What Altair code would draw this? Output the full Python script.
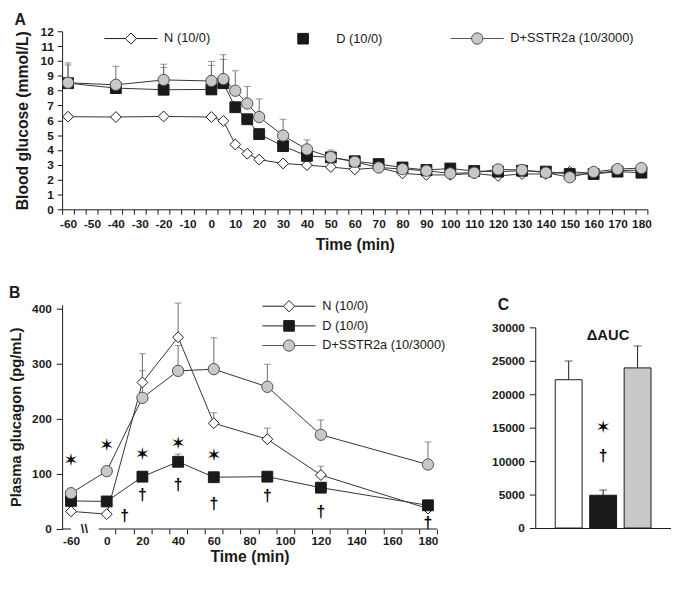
import altair as alt
import pandas as pd

GROUPS = ["N (10/0)", "D (10/0)", "D+SSTR2a (10/3000)"]
FILLS = ["#ffffff", "#1a1a1a", "#c8c8c8"]
STROKES = ["#1a1a1a", "#1a1a1a", "#505050"]
SHAPES = ["diamond", "square", "circle"]
SIZES = [121, 121, 132]
LINE_COLOR = "#333333"
ERR_COLOR = "#6a6a6a"
INK = "#1a1a1a"
FONT = "Liberation Sans"

# legend symbol paths (line + marker)
LINE_SEG = "M-4.5,0H-0.95M0.95,0H4.5"
DIAMOND = "M0,-0.95L0.95,0L0,0.95L-0.95,0Z"
SQUARE = "M-0.9,-0.9H0.9V0.9H-0.9Z"
CIRCLE = ("M0.96,0C0.96,0.53,0.53,0.96,0,0.96C-0.53,0.96,-0.96,0.53,-0.96,0"
          "C-0.96,-0.53,-0.53,-0.96,0,-0.96C0.53,-0.96,0.96,-0.53,0.96,0Z")
LEGEND_A_PATHS = [LINE_SEG + DIAMOND, SQUARE, LINE_SEG + CIRCLE]
LEGEND_B_PATHS = [LINE_SEG + DIAMOND, LINE_SEG + SQUARE, LINE_SEG + CIRCLE]

# ---------------- Panel A : blood glucose ----------------
A_TIME = [-60, -40, -20, 0, 5, 10, 15, 20, 30, 40, 50, 60, 70, 80, 90, 100,
          110, 120, 130, 140, 150, 160, 170, 180]
A_N = [6.24, 6.22, 6.26, 6.22, 5.96, 4.37, 3.75, 3.35, 3.09, 2.98, 2.85, 2.69,
       2.80, 2.42, 2.32, 2.32, 2.42, 2.25, 2.38, 2.38, 2.54, 2.42, 2.60, 2.65]
A_D = [8.50, 8.17, 8.06, 8.08, 8.50, 6.88, 6.07, 5.07, 4.26, 3.60, 3.50, 3.24,
       3.05, 2.82, 2.65, 2.75, 2.58, 2.54, 2.60, 2.54, 2.38, 2.38, 2.54, 2.47]
A_S = [8.53, 8.39, 8.72, 8.65, 8.78, 7.99, 7.13, 6.22, 4.97, 4.04, 3.52, 3.20,
       2.82, 2.71, 2.60, 2.42, 2.47, 2.69, 2.65, 2.47, 2.16, 2.52, 2.71, 2.78]
A_ERR_D_TIME = [-60, -20, 0, 5]
A_ERR_D_UP = [9.73, 9.56, 9.70, 10.10]
A_ERR_S_TIME = [-60, -40, -20, 0, 5, 10, 15, 20, 30, 40, 50]
A_ERR_S_UP = [9.87, 9.64, 9.78, 9.97, 10.42, 9.34, 8.28, 7.44, 6.07, 4.68, 4.00]
A_X_LABELS = [-60, -50, -40, -30, -20, -10, 0, 10, 20, 30, 40, 50, 60, 70, 80,
              90, 100, 110, 120, 130, 140, 150, 160, 170, 180]
A_X_TICKS = [-62.5 + 5 * i for i in range(50)]
A_Y_TICKS = [0, 1, 2, 3, 4, 5, 6, 7, 8, 9, 10, 11, 12]

# ---------------- Panel B : plasma glucagon ----------------
B_TIME = [-60, 0, 20, 40, 60, 90, 120, 180]
B_N = [32, 27, 266, 348, 192, 163, 98, 37]
B_D = [51, 50, 95, 122, 94, 95, 75, 43]
B_S = [65, 105, 238, 287, 290, 258, 171, 117]
B_ERR_N_TIME = [20, 40, 60, 90, 120]
B_ERR_N_UP = [318, 410, 211, 183, 114]
B_ERR_D_TIME = [40]
B_ERR_D_UP = [136]
B_ERR_S_TIME = [20, 40, 60, 90, 120, 180]
B_ERR_S_UP = [287, 333, 347, 299, 198, 158]
B_STAR_TIME = [-60, 0, 20, 40, 60]
B_STAR_Y = [124, 150, 135, 154, 132]
B_DAGGER_TIME = [10, 20, 40, 60, 90, 120, 180]
B_DAGGER_Y = [24, 62, 80, 45, 59, 31, 10]
B_X_LABELS = [-20, 0, 20, 40, 60, 80, 100, 120, 140, 160, 180]   # -20 shows "-60"
B_X_TICKS = [5, 15, 25, 35, 45, 55, 65, 75, 85, 95, 105, 115, 125, 135, 145,
             155, 165, 175, 185]
B_Y_TICKS = [0, 50, 100, 150, 200, 250, 300, 350, 400]
B_AXIS_FROM = [-25, -4.5]
B_AXIS_TO = [-20, 185]
B_BREAK_AT = [-12.5]

# ---------------- Panel C : delta AUC ----------------
C_VALUES = [22170, 4900, 23940]
C_ERR_UP = [24960, 5680, 27220]
C_STAR_Y = [14980]
C_DAGGER_Y = [10820]
C_Y_TICKS = [0, 5000, 10000, 15000, 20000, 25000, 30000]


def long_df(times, series):
    rows = []
    for g, vals in zip(GROUPS, series):
        for t, v in zip(times, vals):
            rows.append({"t": t, "y": v, "g": g})
    return pd.DataFrame(rows)


def err_df(times, vals, etimes, eups, g):
    look = dict(zip(times, vals))
    return pd.DataFrame({"t": etimes, "y": [look[t] for t in etimes],
                         "y2": eups, "g": [g] * len(etimes)})


def legend_layer(paths, legend):
    return alt.Chart(pd.DataFrame({"g": GROUPS})).transform_filter("false").mark_point(
        filled=True, opacity=1, size=144, strokeWidth=1
    ).encode(
        shape=alt.Shape("g:N", scale=alt.Scale(domain=GROUPS, range=paths), legend=legend),
        fill=alt.Fill("g:N", scale=alt.Scale(domain=GROUPS, range=FILLS), legend=legend),
        stroke=alt.Stroke("g:N", scale=alt.Scale(domain=GROUPS, range=STROKES), legend=legend),
    )


def series_layers(df, errs, X, Y, Y2, calc=None):
    def prep(c):
        return c.transform_calculate(x=calc) if calc else c
    layers = []
    layers.append(prep(alt.Chart(errs)).mark_rule(color=ERR_COLOR, strokeWidth=1).encode(
        x=X, y=Y, y2="y2:Q"))
    layers.append(prep(alt.Chart(errs)).mark_tick(orient="horizontal", size=7, thickness=1,
                                                  color=ERR_COLOR).encode(x=X, y=Y2))
    for g in GROUPS:
        layers.append(prep(alt.Chart(df)).transform_filter(alt.datum.g == g).mark_line(
            color=LINE_COLOR, strokeWidth=1).encode(x=X, y=Y))
    for g, shp, fl, st, sz in zip(GROUPS, SHAPES, FILLS, STROKES, SIZES):
        layers.append(prep(alt.Chart(df)).transform_filter(alt.datum.g == g).mark_point(
            shape=shp, filled=True, fill=fl, stroke=st, strokeWidth=1, size=sz,
            opacity=1).encode(x=X, y=Y))
    return layers


# ---------- Panel A ----------
dfA = long_df(A_TIME, [A_N, A_D, A_S])
errA = pd.concat([err_df(A_TIME, A_D, A_ERR_D_TIME, A_ERR_D_UP, GROUPS[1]),
                  err_df(A_TIME, A_S, A_ERR_S_TIME, A_ERR_S_UP, GROUPS[2])])

xA_scale = alt.Scale(domain=[-62.5, 182.5], nice=False, zero=False)
yA_scale = alt.Scale(domain=[0, 12], nice=False)
xA_axis = alt.Axis(values=A_X_LABELS + A_X_TICKS,
                   labelExpr="datum.value % 10 === 0 ? '' + datum.value : ''",
                   tickOpacity={"condition": {"test": "datum.value % 10 === 0", "value": 0}, "value": 1},
                   labelOverlap=False, labelFlush=False, labelPadding=5, titlePadding=7)
yA_axis = alt.Axis(values=A_Y_TICKS, labelPadding=4, titlePadding=10, labelOverlap=False)
XA = alt.X("t:Q", scale=xA_scale, axis=xA_axis, title="Time (min)")
YA = alt.Y("y:Q", scale=yA_scale, axis=yA_axis, title="Blood glucose (mmol/L)")
YA2 = alt.Y("y2:Q", scale=yA_scale, axis=yA_axis, title="Blood glucose (mmol/L)")

legendA = alt.Legend(title=None, orient="none", legendX=43, legendY=0.5, direction="horizontal",
                     symbolSize=144, symbolStrokeWidth=1, symbolOffset=20.5, labelOffset=27.2,
                     labelFont=FONT, labelFontSize=13, labelFontWeight="normal", labelColor=INK,
                     columnPadding=67, padding=0)

panelA = alt.layer(*series_layers(dfA, errA, XA, YA, YA2), legend_layer(LEGEND_A_PATHS, legendA)).properties(
    width=595, height=181,
    title=alt.TitleParams("A", anchor="start", frame="bounds", offset=-3, fontSize=16))

# ---------- Panel B ----------
dfB = long_df(B_TIME, [B_N, B_D, B_S])
errB = pd.concat([err_df(B_TIME, B_N, B_ERR_N_TIME, B_ERR_N_UP, GROUPS[0]),
                  err_df(B_TIME, B_D, B_ERR_D_TIME, B_ERR_D_UP, GROUPS[1]),
                  err_df(B_TIME, B_S, B_ERR_S_TIME, B_ERR_S_UP, GROUPS[2])])
BREAK_CALC = "datum.t === -60 ? -20 : datum.t"

xB_scale = alt.Scale(domain=[-25, 185], nice=False, zero=False)
yB_scale = alt.Scale(domain=[0, 407], nice=False)
xB_axis = alt.Axis(values=B_X_LABELS + B_X_TICKS, domain=False,
                   labelExpr="datum.value === -20 ? '-60' : (datum.value % 20 === 0 ? '' + datum.value : '')",
                   tickOpacity={"condition": {"test": "datum.value % 20 === 0", "value": 0}, "value": 1},
                   labelOverlap=False, labelFlush=False, labelPadding=2, titlePadding=2)
yB_axis = alt.Axis(values=B_Y_TICKS, labelPadding=5, titlePadding=8, tickSize=6,
                   labelOverlap=False, titleFontSize=15)
XB = alt.X("x:Q", scale=xB_scale, axis=xB_axis, title="Time (min)")
YB = alt.Y("y:Q", scale=yB_scale, axis=yB_axis, title="Plasma glucagon (pg/mL)")
YB2 = alt.Y("y2:Q", scale=yB_scale, axis=yB_axis, title="Plasma glucagon (pg/mL)")

legendB = alt.Legend(title=None, orient="none", legendX=203.7, legendY=-5, direction="vertical",
                     symbolSize=144, symbolStrokeWidth=1, symbolOffset=20.5, labelOffset=27.2,
                     labelFont=FONT, labelFontSize=13, labelFontWeight="normal", labelColor=INK,
                     rowPadding=4, padding=0)

axis_seg = alt.Chart(pd.DataFrame({"x": B_AXIS_FROM, "x2": B_AXIS_TO})).mark_rule(
    color=INK, strokeWidth=1).encode(x=XB, x2="x2:Q", y=alt.datum(0))
brk = alt.Chart(pd.DataFrame({"x": B_BREAK_AT, "y": [0]})).mark_text(
    text="\\\\", font=FONT, fontWeight="bold", fontSize=13, color=INK, baseline="middle"
).encode(x=XB, y=YB)
stars = alt.Chart(pd.DataFrame({"t": B_STAR_TIME, "y": B_STAR_Y})).transform_calculate(
    x=BREAK_CALC).mark_text(text="\u2736", font="DejaVu Sans", fontSize=18, color="#000000",
                            baseline="middle").encode(x=XB, y=YB)
daggers = alt.Chart(pd.DataFrame({"t": B_DAGGER_TIME, "y": B_DAGGER_Y})).transform_calculate(
    x=BREAK_CALC).mark_text(text="\u2020", font=FONT, fontWeight="bold", fontSize=16, color="#000000",
                            baseline="middle").encode(x=XB, y=YB)

panelB = alt.layer(axis_seg, brk, *series_layers(dfB, errB, XB, YB, YB2, calc=BREAK_CALC),
                   stars, daggers, legend_layer(LEGEND_B_PATHS, legendB)).properties(
    width=381, height=228,
    title=alt.TitleParams("B", anchor="start", frame="bounds", offset=-1, fontSize=16))

# ---------- Panel C ----------
dfC = pd.DataFrame({"g": GROUPS, "y": C_VALUES, "y2": C_ERR_UP})
xC = alt.X("g:N", sort=GROUPS,
           scale=alt.Scale(domain=GROUPS, paddingInner=0.22, paddingOuter=0.58),
           axis=alt.Axis(labels=False, ticks=False), title=None)
yC_scale = alt.Scale(domain=[0, 30000], nice=False)
yC_axis = alt.Axis(values=C_Y_TICKS, format="d", labelPadding=5, tickSize=6, labelOverlap=False)
YC = alt.Y("y:Q", scale=yC_scale, axis=yC_axis, title=None)
YC2 = alt.Y("y2:Q", scale=yC_scale, axis=yC_axis, title=None)

bars = alt.Chart(dfC).mark_bar(stroke=INK, strokeWidth=1).encode(
    x=xC, y=YC, fill=alt.Fill("g:N", scale=alt.Scale(domain=GROUPS, range=FILLS), legend=None))
c_err = alt.Chart(dfC).mark_rule(color=INK, strokeWidth=1).encode(x=xC, y=YC, y2="y2:Q")
c_cap = alt.Chart(dfC).mark_tick(orient="horizontal", size=8, thickness=1, color=INK).encode(x=xC, y=YC2)
c_star = alt.Chart(pd.DataFrame({"g": [GROUPS[1]], "y": C_STAR_Y})).mark_text(
    text="\u2736", font="DejaVu Sans", fontSize=18, color="#000000", baseline="middle").encode(x=xC, y=YC)
c_dag = alt.Chart(pd.DataFrame({"g": [GROUPS[1]], "y": C_DAGGER_Y})).mark_text(
    text="\u2020", font=FONT, fontWeight="bold", fontSize=16, color="#000000", baseline="middle").encode(x=xC, y=YC)

panelC = alt.layer(bars, c_err, c_cap, c_star, c_dag).properties(
    width=138, height=204,
    title=alt.TitleParams("\u0394AUC", fontSize=15, offset=-22, anchor="middle", dx=5))

spacer = alt.Chart(pd.DataFrame({"z": [0]})).mark_point(opacity=0).properties(
    width=1, height=1,
    title=alt.TitleParams("C", anchor="start", frame="group", dx=-38, offset=-11, fontSize=16))

right = alt.vconcat(spacer, panelC, spacing=8).resolve_scale(
    shape="independent", fill="independent", stroke="independent")
bottom = alt.hconcat(panelB, right, spacing=45).resolve_scale(
    shape="independent", fill="independent", stroke="independent")

chart = alt.vconcat(panelA, bottom, spacing=33).resolve_scale(
    shape="independent", fill="independent", stroke="independent"
).properties(padding=0).configure_view(strokeWidth=0).configure_axis(
    labelFont=FONT, titleFont=FONT, labelFontWeight="bold", titleFontWeight="bold",
    labelFontSize=12, titleFontSize=16, domainColor=INK, tickColor=INK, labelColor=INK,
    titleColor=INK, grid=False, tickSize=5
).configure_title(font=FONT, fontSize=17, fontWeight="bold", color=INK)

chart.save("out.html", embed_options={"renderer": "svg", "actions": False})
